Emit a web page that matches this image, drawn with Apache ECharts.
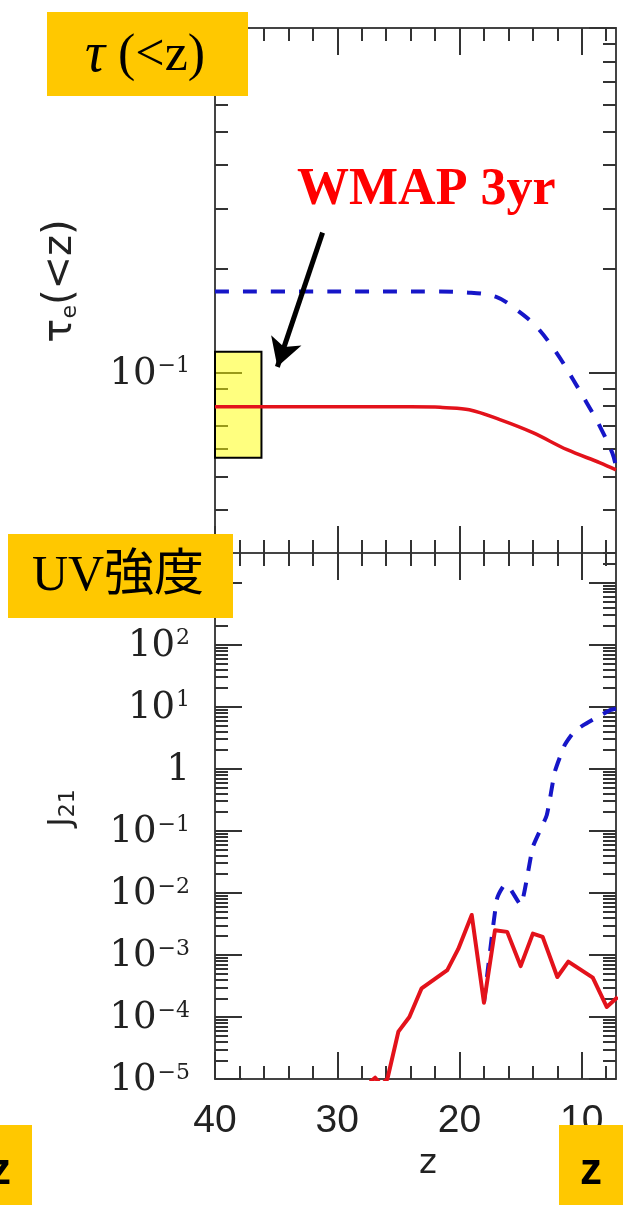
<!DOCTYPE html>
<html><head><meta charset="utf-8">
<script src="https://cdn.jsdelivr.net/npm/echarts@6/dist/echarts.min.js"></script>
<style>html,body{margin:0;padding:0;background:#fff}#c{width:623px;height:1205px}</style>
</head><body><div id="c"></div>
<script>
// ---------------- data ----------------
// top panel: optical depth tau_e(<z)
const tauRedZ   = [40, 30, 24, 22, 21.4, 19.2, 16.7, 14.0, 11.2, 8.5, 7.2];
const tauRedV   = [0.0797, 0.0797, 0.0797, 0.0796, 0.0793, 0.0781, 0.0731, 0.0670, 0.0598, 0.0548, 0.0523];
const tauBlueZ  = [40, 30, 22, 19.4, 17.0, 15.3, 13.7, 12.05, 10.7, 9.6, 8.5, 7.5, 7.2];
const tauBlueV  = [0.172, 0.172, 0.172, 0.171, 0.166, 0.152, 0.136, 0.114, 0.0954, 0.0819, 0.0697, 0.0585, 0.0535];
// WMAP 3yr box and arrow (data coordinates)
const wmapBoxZ   = [40, 36.2];
const wmapBoxTau = [0.115, 0.0567];
const arrowFrom  = [31.2, 0.255];
const arrowTo    = [34.9, 0.104];
// bottom panel: J21
const jRedZ  = [27.3, 26.9, 26.4, 25.9, 25.0, 24.1, 23.1, 21.0, 20.1, 19.0, 18.0, 17.1, 16.1, 15.0, 14.0, 13.2, 12.0, 11.1, 9.1, 7.96, 7.06];
const jRedV  = [0.9e-5, 1.05e-5, 0.8e-5, 1.0e-5, 5.8e-5, 1.0e-4, 2.9e-4, 5.7e-4, 1.25e-3, 4.4e-3, 1.7e-4, 2.5e-3, 2.35e-3, 6.6e-4, 2.2e-3, 1.95e-3, 4.4e-4, 7.8e-4, 4.3e-4, 1.45e-4, 2.1e-4];
const jBlueZ = [18.0, 16.95, 16.3, 15.9, 15.0, 14.0, 12.86, 12.2, 11.4, 10.7, 9.9, 8.85, 7.63, 7.2];
const jBlueV = [1.7e-4, 7.8e-3, 1.35e-2, 1.2e-2, 6.4e-3, 5.5e-2, 0.18, 0.9, 2.4, 3.8, 5.0, 6.6, 8.9, 9.3];
// ticks
const xMajor = [40, 30, 20, 10];
const xMinor = [38, 36, 34, 32, 28, 26, 24, 22, 18, 16, 14, 12, 8];
const tauMajor = [0.1, 1];
const tauMinor = [0.04, 0.05, 0.06, 0.07, 0.08, 0.09, 0.2, 0.3, 0.4, 0.5, 0.6, 0.7, 0.8, 0.9];
const tauLabels = [0.1];
const jMajor = [1e-5, 1e-4, 1e-3, 1e-2, 1e-1, 1, 1e1, 1e2, 1e3];
const jMinorMult = [2, 3, 4, 5, 6, 7, 8, 9];
const jMinor = [];
jMajor.forEach(d => jMinorMult.forEach(m => { if (m * d <= 3000) jMinor.push(m * d); }));

const xRange = [7.2, 40];
const tauRange = [0.03, 1];
const jRange = [1e-5, 3000];

// ---------------- chart ----------------
const pairs = (a, b) => a.map((v, i) => [v, b[i]]);
const AX = '#444', TK = '#333';

function logLabel(v) {
  const e = Math.round(Math.log10(v));
  if (e === 0) return '{b|1}';
  return '{b|10}{s|' + (e < 0 ? '\u2212' + (-e) : e) + '}';
}
const yLabelStyle = {
  margin: 25, color: '#222', fontFamily: 'DejaVu Serif', fontSize: 37,
  formatter: logLabel,
  rich: {
    b: { fontFamily: 'DejaVu Serif', fontSize: 37, color: '#222', verticalAlign: 'bottom', lineHeight: 40 },
    s: { fontFamily: 'DejaVu Serif', fontSize: 22, color: '#222', verticalAlign: 'bottom', lineHeight: 22, padding: [0, 0, 15, 1] }
  }
};

function xAxes(g, labels) {
  const base = { gridIndex: g, type: 'value', inverse: true, min: xRange[0], max: xRange[1], splitLine: { show: false } };
  const mk = (pos, major) => Object.assign({}, base, {
    position: pos,
    axisLine: { show: major, onZero: false, lineStyle: { color: AX, width: 2 } },
    axisTick: { show: true, inside: true, length: major ? 27 : 13, customValues: major ? xMajor : xMinor, lineStyle: { color: TK, width: 2 } },
    axisLabel: (labels && major && pos === 'bottom') ? {
      show: true, customValues: xMajor, margin: 23, color: '#222', fontFamily: 'Liberation Sans', fontSize: 39,
      formatter: v => String(Math.round(v))
    } : { show: false }
  });
  const arr = [mk('bottom', true), mk('bottom', false), mk('top', true), mk('top', false)];
  if (labels) {
    Object.assign(arr[0], {
      name: 'z', nameLocation: 'middle', nameGap: 68,
      nameTextStyle: { fontFamily: 'DejaVu Sans', fontSize: 34, color: '#222', padding: [0, 0, 0, 25] }
    });
  }
  return arr;
}
function yAxes(g, range, major, minor, labelVals) {
  const base = { gridIndex: g, type: 'log', logBase: 10, min: range[0], max: range[1], splitLine: { show: false } };
  const mk = (pos, isMajor) => Object.assign({}, base, {
    position: pos,
    axisLine: { show: isMajor, onZero: false, lineStyle: { color: AX, width: 2 } },
    axisTick: { show: true, inside: true, length: isMajor ? 27 : 13, customValues: isMajor ? major : minor, lineStyle: { color: TK, width: 2 } },
    axisLabel: (isMajor && pos === 'left') ? Object.assign({ show: true, customValues: labelVals }, yLabelStyle) : { show: false }
  });
  return [mk('left', true), mk('left', false), mk('right', true), mk('right', false)];
}

const yTop = yAxes(0, tauRange, tauMajor, tauMinor, tauLabels);
Object.assign(yTop[0], {
  name: '\u03c4{e|e}(<z)', nameLocation: 'middle', nameRotate: 90, nameGap: 134,
  nameTextStyle: { fontFamily: 'DejaVu Sans', fontSize: 40, color: '#222', padding: [0, 0, 0, 19],
    rich: { e: { fontFamily: 'DejaVu Sans', fontSize: 22, color: '#222', verticalAlign: 'bottom', padding: [14, 0, 0, 0] } } }
});
const yBot = yAxes(1, jRange, jMajor, jMinor, jMajor);
Object.assign(yBot[0], {
  name: 'J{e|21}', nameLocation: 'middle', nameRotate: 90, nameGap: 136,
  nameTextStyle: { fontFamily: 'DejaVu Sans', fontSize: 32, color: '#222', padding: [0, 0, 0, 16],
    rich: { e: { fontFamily: 'DejaVu Sans', fontSize: 22, color: '#222', verticalAlign: 'bottom', padding: [12, 0, 0, 0] } } }
});

const RED = '#E3121B', BLUE = '#1616C8';

const option = {
  animation: false,
  backgroundColor: '#ffffff',
  grid: [
    { left: 215, top: 28, width: 401, height: 525 },
    { left: 215, top: 553, width: 401, height: 526 }
  ],
  xAxis: [].concat(xAxes(0, false), xAxes(1, true)),
  yAxis: [].concat(yTop, yBot),
  series: [
    { name: 'tau_dashed', type: 'line', xAxisIndex: 0, yAxisIndex: 0, data: pairs(tauBlueZ, tauBlueV),
      showSymbol: false, smooth: 0.35, z: 3, lineStyle: { color: BLUE, width: 4, type: [14, 14] } },
    { name: 'tau_solid', type: 'line', xAxisIndex: 0, yAxisIndex: 0, data: pairs(tauRedZ, tauRedV),
      showSymbol: false, smooth: 0.35, z: 4, lineStyle: { color: RED, width: 3.5 } },
    { name: 'wmap', type: 'line', xAxisIndex: 0, yAxisIndex: 0, data: [], z: 10,
      markArea: { silent: true, itemStyle: { color: 'rgba(255,255,0,0.5)', borderColor: '#000', borderWidth: 2 },
        data: [[{ coord: [wmapBoxZ[0], wmapBoxTau[0]] }, { coord: [wmapBoxZ[1], wmapBoxTau[1]] }]] },
      markLine: { silent: true, symbol: ['none', 'arrow'], symbolSize: [24, 28], label: { show: false },
        lineStyle: { color: '#000', width: 5, type: 'solid' },
        data: [[{ coord: arrowFrom }, { coord: arrowTo }]] } },
    { name: 'J_dashed', type: 'line', xAxisIndex: 4, yAxisIndex: 4, data: pairs(jBlueZ, jBlueV),
      showSymbol: false, smooth: 0.15, z: 3, lineStyle: { color: BLUE, width: 4, type: [14, 12] } },
    { name: 'J_solid', type: 'line', xAxisIndex: 4, yAxisIndex: 4, data: pairs(jRedZ, jRedV),
      showSymbol: false, z: 4, lineStyle: { color: RED, width: 4, join: 'round' } }
  ],
  graphic: [
    { type: 'rect', z: 100, shape: { x: 47, y: 12, width: 201, height: 84 }, style: { fill: '#FFC800' } },
    { type: 'text', z: 101, x: 145, y: 56, style: { text: '{t|\u03c4} (<z)', fill: '#000', font: '52px "Liberation Serif"',
        textAlign: 'center', textVerticalAlign: 'middle',
        rich: { t: { fontStyle: 'italic', fontSize: 56, fontFamily: 'Liberation Serif', fill: '#000' } } } },
    { type: 'rect', z: 100, shape: { x: 8, y: 534, width: 225, height: 84 }, style: { fill: '#FFC800' } },
    { type: 'text', z: 101, x: 118, y: 577, style: { text: 'UV強度', fill: '#000', font: '50px "Liberation Serif", "Noto Sans CJK JP"',
        textAlign: 'center', textVerticalAlign: 'middle' } },
    { type: 'rect', z: 100, shape: { x: -32, y: 1125, width: 64, height: 80 }, style: { fill: '#FFC800' } },
    { type: 'text', z: 101, x: 0, y: 1172, style: { text: 'z', fill: '#000', font: 'bold 44px "Liberation Sans"', textAlign: 'center', textVerticalAlign: 'middle' } },
    { type: 'rect', z: 100, shape: { x: 559, y: 1125, width: 64, height: 80 }, style: { fill: '#FFC800' } },
    { type: 'text', z: 101, x: 591, y: 1172, style: { text: 'z', fill: '#000', font: 'bold 44px "Liberation Sans"', textAlign: 'center', textVerticalAlign: 'middle' } },
    { type: 'text', z: 101, x: 297, y: 191, style: { text: 'WMAP 3yr', fill: '#FF0000', font: 'bold 52px "Liberation Serif"', textAlign: 'left', textVerticalAlign: 'middle' } }
  ]
};
const chart = echarts.init(document.getElementById('c'), null, { renderer: 'canvas' });
chart.setOption(option);
</script>
</body></html>
